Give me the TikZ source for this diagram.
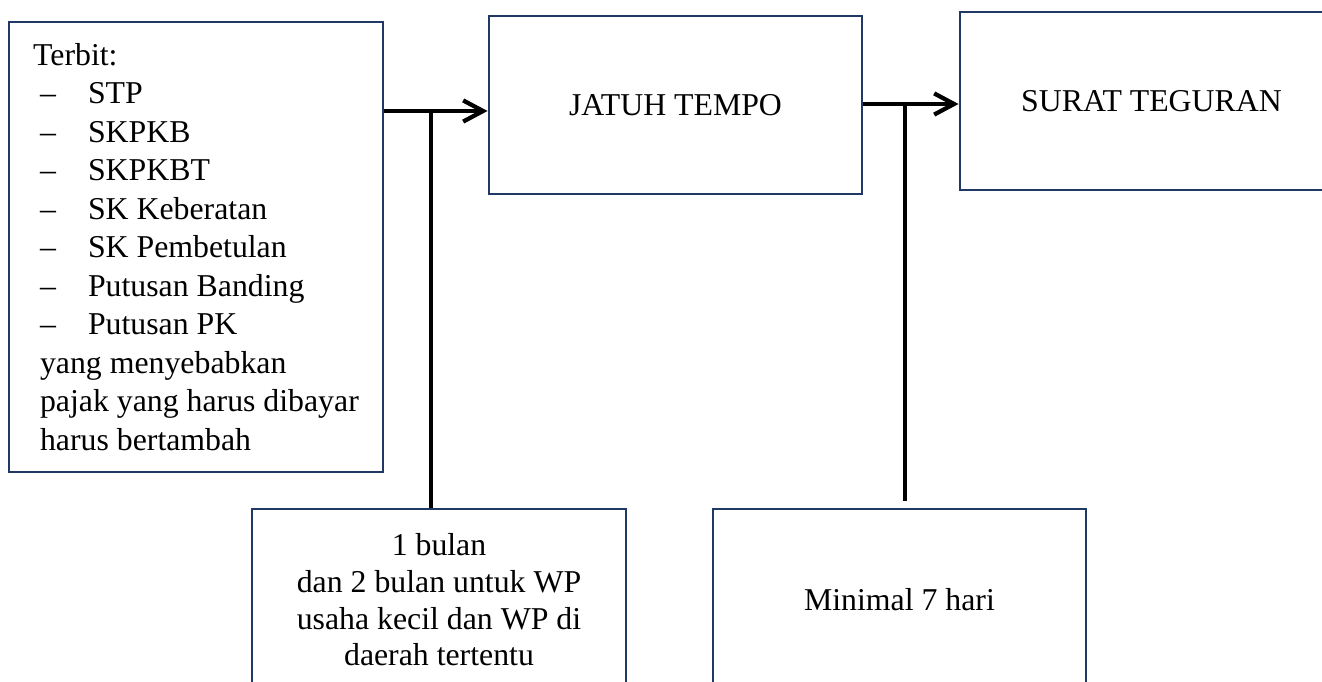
\documentclass[tikz,border=0pt]{standalone}
\usepackage{fontspec}
\setmainfont{Liberation Serif}
\usepackage{xcolor}
\usetikzlibrary{arrows.meta}
\definecolor{boxblue}{HTML}{1F3864}
\tikzset{>={Straight Barb[length=7.5pt,width=8pt]}}
\tikzset{
  box/.style={draw=boxblue, line width=1.1pt, rectangle, inner sep=0pt},
  flow/.style={line width=1.6pt, ->},
  link/.style={line width=1.6pt},
}

\begin{document}
\begin{tikzpicture}[x=0.3774pt, y=-0.3774pt]
      \useasboundingbox (0,0) rectangle (1322,682);
      \clip (0,0) rectangle (1322,682);
      \node[box, minimum width=141.15pt, minimum height=169.83pt, align=left,
            font=\fontsize{12pt}{14.53pt}\selectfont] (terbit) at (196,247)
        {Terbit:\\
         \hspace*{2.6pt}\makebox[18.1pt][l]{--}STP\\
         \hspace*{2.6pt}\makebox[18.1pt][l]{--}SKPKB\\
         \hspace*{2.6pt}\makebox[18.1pt][l]{--}SKPKBT\\
         \hspace*{2.6pt}\makebox[18.1pt][l]{--}SK Keberatan\\
         \hspace*{2.6pt}\makebox[18.1pt][l]{--}SK Pembetulan\\
         \hspace*{2.6pt}\makebox[18.1pt][l]{--}Putusan Banding\\
         \hspace*{2.6pt}\makebox[18.1pt][l]{--}Putusan PK\\
         \hspace*{2.6pt}yang menyebabkan\\
         \hspace*{2.6pt}pajak yang harus dibayar\\
         \hspace*{2.6pt}harus bertambah};
      \node[box, minimum width=140.77pt, minimum height=67.18pt,
            font=\fontsize{12pt}{14.53pt}\selectfont] (jatuh) at (675.5,105) {JATUH TEMPO};
      \node[box, minimum width=144.54pt, minimum height=67.18pt,
            font=\fontsize{12pt}{14.53pt}\selectfont] (teguran) at (1151.5,101) {SURAT TEGURAN};
      \node[box, minimum width=141.15pt, minimum height=68.69pt, align=center,
            font=\fontsize{12pt}{13.85pt}\selectfont] (bulan) at (439,600)
        {1 bulan\\ dan 2 bulan untuk WP\\ usaha kecil dan WP di\\ daerah tertentu};
      \node[box, minimum width=140.77pt, minimum height=68.69pt,
            font=\fontsize{12pt}{13.85pt}\selectfont] (hari) at (899.5,600) {Minimal 7 hari};
      \coordinate (p1) at (431,111);
      \coordinate (p2) at (905,104);
      \draw[flow] (terbit.east |- p1) -- (jatuh.west |- p1);
      \draw[link] (p1) -- (p1 |- bulan.north);
      \draw[flow] (jatuh.east |- p2) -- (teguran.west |- p2);
      \draw[link, shorten >=2.6pt] (p2) -- (p2 |- hari.north);
    \end{tikzpicture}
\end{document}
